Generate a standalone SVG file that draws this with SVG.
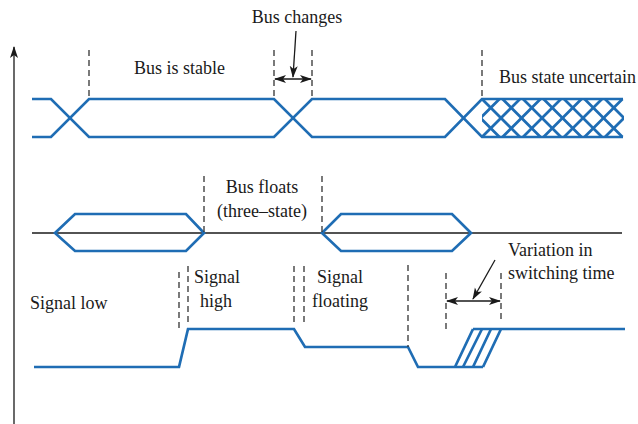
<svg xmlns="http://www.w3.org/2000/svg" width="638" height="424" viewBox="0 0 638 424">
<defs>
<marker id="ah" markerUnits="userSpaceOnUse" markerWidth="12" markerHeight="10" viewBox="0 0 12 10" refX="11" refY="5" orient="auto-start-reverse">
<path d="M0,1 L12,5 L0,9 L3,5 z" fill="#1a1a1a"/>
</marker>
<clipPath id="hclip"><rect x="482" y="97" width="142" height="42"/></clipPath>
</defs>
<style>
.sig{fill:none;stroke:#1f6db4;stroke-width:2.7;stroke-linejoin:miter}
.blk{fill:none;stroke:#1a1a1a;stroke-width:1.3}
.dash{fill:none;stroke:#333;stroke-width:1.3;stroke-dasharray:6,4}
.lbl{font-size:18px;fill:#1a1a1a}
</style>
<rect width="638" height="424" fill="#fff"/>
<g id="axis">
<line class="blk" x1="14" y1="424" x2="14" y2="47" marker-end="url(#ah)"/>
</g>
<g id="bus-top">
<path class="sig" d="M32,99 H51 L89,137 H274 L312,99 H445 L482,137 H623"/>
<path class="sig" d="M32,137 H51 L89,99 H274 L312,137 H445 L482,99 H623"/>
<g clip-path="url(#hclip)" class="sig">
<path d="M461.5,99 l38,38 M482,99 l38,38 M502.5,99 l38,38 M523,99 l38,38 M543.5,99 l38,38 M564,99 l38,38 M584.5,99 l38,38 M605,99 l38,38"/>
<path d="M461.5,137 l38,-38 M482,137 l38,-38 M502.5,137 l38,-38 M523,137 l38,-38 M543.5,137 l38,-38 M564,137 l38,-38 M584.5,137 l38,-38 M605,137 l38,-38"/>
</g>
</g>
<g id="bus-middle">
<line class="blk" x1="32" y1="233" x2="622" y2="233"/>
<path class="sig" d="M55,233 L75,214 H186 L204,233 L186,251 H75 Z"/>
<path class="sig" d="M322,233 L341,214 H452 L471,233 L452,251 H341 Z"/>
</g>
<g id="signal-bottom">
<path class="sig" d="M34,367 H179 L188,329 H294 L305,347 H408 L418,367 H483"/>
<path class="sig" d="M473,329 H625"/>
<path class="sig" d="M455,367 L473,329 M463,367 L482,329 M473,367 L491,329 M483,367 L501,329"/>
</g>
<g id="dashes">
<line class="dash" x1="89" y1="50" x2="89" y2="99"/>
<line class="dash" x1="274" y1="50" x2="274" y2="99"/>
<line class="dash" x1="312" y1="50" x2="312" y2="99"/>
<line class="dash" x1="482" y1="50" x2="482" y2="99"/>
<line class="dash" x1="204" y1="176" x2="204" y2="233"/>
<line class="dash" x1="322" y1="176" x2="322" y2="233"/>
<line class="dash" x1="179" y1="272" x2="179" y2="329"/>
<line class="dash" x1="188" y1="266" x2="188" y2="326"/>
<line class="dash" x1="294" y1="266" x2="294" y2="326"/>
<line class="dash" x1="304" y1="266" x2="304" y2="326"/>
<line class="dash" x1="408" y1="265" x2="408" y2="347"/>
<line class="dash" x1="446" y1="273" x2="446" y2="330"/>
<line class="dash" x1="501" y1="273" x2="501" y2="322"/>
</g>
<g id="connectors">
<line class="blk" x1="296" y1="31" x2="293" y2="77" marker-end="url(#ah)"/>
<line class="blk" x1="275" y1="79" x2="311" y2="79" marker-start="url(#ah)" marker-end="url(#ah)"/>
<line class="blk" x1="495" y1="260" x2="473" y2="299" marker-end="url(#ah)"/>
<line class="blk" x1="447" y1="301" x2="500" y2="301" marker-start="url(#ah)" marker-end="url(#ah)"/>
</g>
<g id="labels" class="lbl" font-family="Liberation Serif, DejaVu Serif, serif">
<text x="297" y="23" text-anchor="middle">Bus changes</text>
<text x="134" y="74">Bus is stable</text>
<text x="499" y="83">Bus state uncertain</text>
<text x="262" y="193" text-anchor="middle">Bus floats</text>
<text x="262" y="217" text-anchor="middle">(three–state)</text>
<text x="30" y="309">Signal low</text>
<text x="194" y="283">Signal</text>
<text x="200" y="307">high</text>
<text x="317" y="283">Signal</text>
<text x="312" y="307">floating</text>
<text x="508" y="256">Variation in</text>
<text x="508" y="279">switching time</text>
</g>
</svg>
